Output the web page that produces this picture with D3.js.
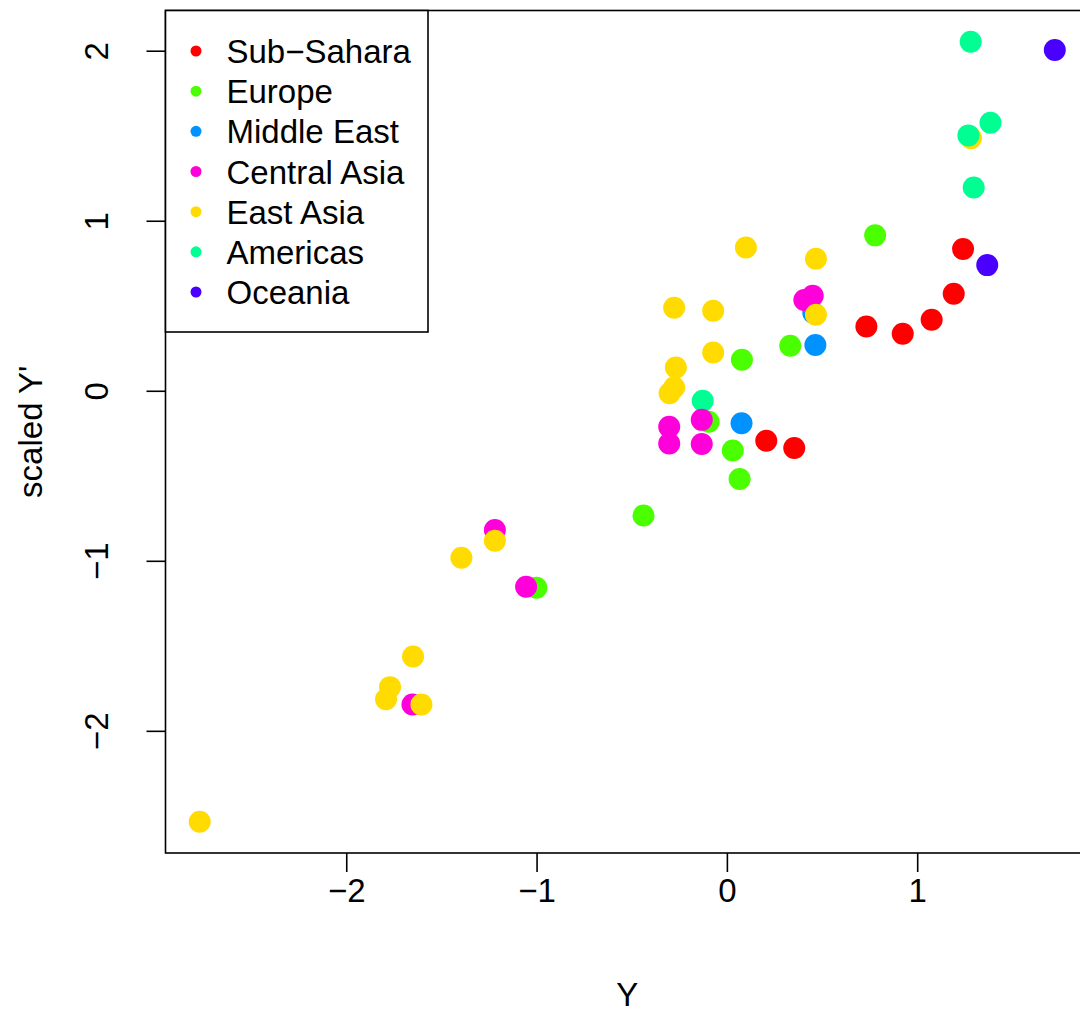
<!DOCTYPE html>
<html>
<head>
<meta charset="utf-8">
<script src="https://cdn.jsdelivr.net/npm/d3@7"></script>
<style>
  html, body { margin: 0; padding: 0; background: #fff; }
  svg { display: block; font-family: "Liberation Sans", Arial, sans-serif; }
</style>
</head>
<body>
<svg id="chart" width="1080" height="1012"></svg>
<script>
// Region legend categories and their colours
const regions = ["Sub\u2212Sahara", "Europe", "Middle East", "Central Asia", "East Asia", "Americas", "Oceania"];
const regionColors = ["#FF0000", "#49FF00", "#0092FF", "#FF00DB", "#FFDB00", "#00FF92", "#4900FF"];

// One entry per country, in plotting order: region index, Y, scaled Y'
const pointRegion = [
  0, 0, 0, 0, 0, 0, 0,
  1, 1, 1, 1, 1, 1, 1, 1,
  2, 2, 2,
  3, 3, 3, 3, 3, 3, 3, 3,
  4, 4, 4, 4, 4, 4, 4, 4, 4, 4, 4, 4, 4, 4, 4, 4, 4,
  5, 5, 5, 5, 5,
  3,
  6, 6
];
const pointY = [
  1.241, 1.192, 1.076, 0.733, 0.924, 0.207, 0.354,
  0.779, 0.333, 0.079, -0.096, 0.031, 0.067, -0.438, -1.001,
  0.454, 0.465, 0.077,
  0.407, 0.451, -0.303, -0.303, -0.132, -1.219, -1.055, -1.652,
  0.100, 0.468, 0.468, -0.277, -0.072, -0.072, -0.268, -0.277, -0.301, -1.219, -1.395, -1.649, -1.770, -1.791, -1.605, -2.770, 1.283,
  1.281, 1.385, 1.269, 1.297, -0.127,
  -0.132,
  1.723, 1.368
];
const pointScaled = [
  0.834, 0.571, 0.418, 0.378, 0.335, -0.294, -0.337,
  0.914, 0.265, 0.182, -0.182, -0.351, -0.519, -0.734, -1.159,
  0.459, 0.269, -0.191,
  0.534, 0.559, -0.212, -0.310, -0.313, -0.819, -1.153, -1.845,
  0.843, 0.776, 0.447, 0.488, 0.471, 0.225, 0.137, 0.019, -0.014, -0.882, -0.982, -1.563, -1.743, -1.814, -1.845, -2.535, 1.486,
  2.053, 1.576, 1.502, 1.196, -0.059,
  -0.171,
  2.004, 0.739
];

// Axis tick values and titles
const xTicks = [-2, -1, 0, 1];
const yTicks = [-2, -1, 0, 1, 2];
const xTitle = "Y";
const yTitle = "scaled Y'";

const svg = d3.select("#chart");
const box = { left: 165.5, right: 1089, top: 10.5, bottom: 853 };
const fontSize = 33;

// Axis limits extend the data range by 4% on each side
function padded(vals) {
  const [lo, hi] = d3.extent(vals);
  const d = (hi - lo) * 0.04;
  return [lo - d, hi + d];
}

const x = d3.scaleLinear().domain(padded(pointY)).range([box.left, box.right]);
const y = d3.scaleLinear().domain(padded(pointScaled)).range([box.bottom, box.top]);

// Points
svg.append("g")
  .selectAll("circle")
  .data(pointY.map((v, i) => ({ x: v, y: pointScaled[i], r: pointRegion[i] })))
  .join("circle")
  .attr("cx", d => x(d.x))
  .attr("cy", d => y(d.y))
  .attr("r", 11)
  .attr("fill", d => regionColors[d.r]);

// Bottom axis
const gx = svg.append("g")
  .attr("transform", `translate(0,${box.bottom})`)
  .call(d3.axisBottom(x).tickValues(xTicks).tickSize(19).tickFormat(d3.format("d")));
gx.select(".domain").remove();
gx.selectAll(".tick line").attr("stroke", "#000").attr("stroke-width", 1.6);
gx.selectAll(".tick text")
  .attr("y", 49).attr("dy", null)
  .attr("fill", "#000")
  .style("font-size", fontSize + "px")
  .style("font-family", "'Liberation Sans', Arial, sans-serif");

// Left axis with labels running parallel to it
const gy = svg.append("g")
  .attr("transform", `translate(${box.left},0)`)
  .call(d3.axisLeft(y).tickValues(yTicks).tickSize(19).tickFormat(d3.format("d")));
gy.select(".domain").remove();
gy.selectAll(".tick line").attr("stroke", "#000").attr("stroke-width", 1.6);
gy.selectAll(".tick text")
  .attr("x", 0).attr("y", 0).attr("dy", null)
  .attr("text-anchor", "middle")
  .attr("transform", "rotate(-90) translate(0,-58)")
  .attr("fill", "#000")
  .style("font-size", fontSize + "px")
  .style("font-family", "'Liberation Sans', Arial, sans-serif");

// Plot frame
svg.append("rect")
  .attr("x", box.left).attr("y", box.top)
  .attr("width", box.right - box.left).attr("height", box.bottom - box.top)
  .attr("fill", "none").attr("stroke", "#000").attr("stroke-width", 1.6);

// Axis titles
svg.append("text")
  .attr("x", (box.left + box.right) / 2).attr("y", 1006)
  .attr("text-anchor", "middle")
  .style("font-size", fontSize + "px")
  .text(xTitle);

svg.append("text")
  .attr("transform", `translate(42,${(box.top + box.bottom) / 2}) rotate(-90)`)
  .attr("text-anchor", "middle")
  .style("font-size", fontSize + "px")
  .text(yTitle);

// Legend
const legend = svg.append("g");
legend.append("rect")
  .attr("x", box.left).attr("y", box.top)
  .attr("width", 428 - box.left).attr("height", 332 - box.top)
  .attr("fill", "#fff").attr("stroke", "#000").attr("stroke-width", 1.6);

const rowY = d3.scalePoint().domain(regions).range([51, 292]);
const rows = legend.selectAll("g.row")
  .data(regions)
  .join("g")
  .attr("class", "row")
  .attr("transform", d => `translate(0,${rowY(d)})`);
rows.append("circle")
  .attr("cx", 196).attr("cy", 0).attr("r", 5.5)
  .attr("fill", (d, i) => regionColors[i]);
rows.append("text")
  .attr("x", 226.5).attr("y", 12)
  .style("font-size", fontSize + "px")
  .text(d => d);
</script>
</body>
</html>
